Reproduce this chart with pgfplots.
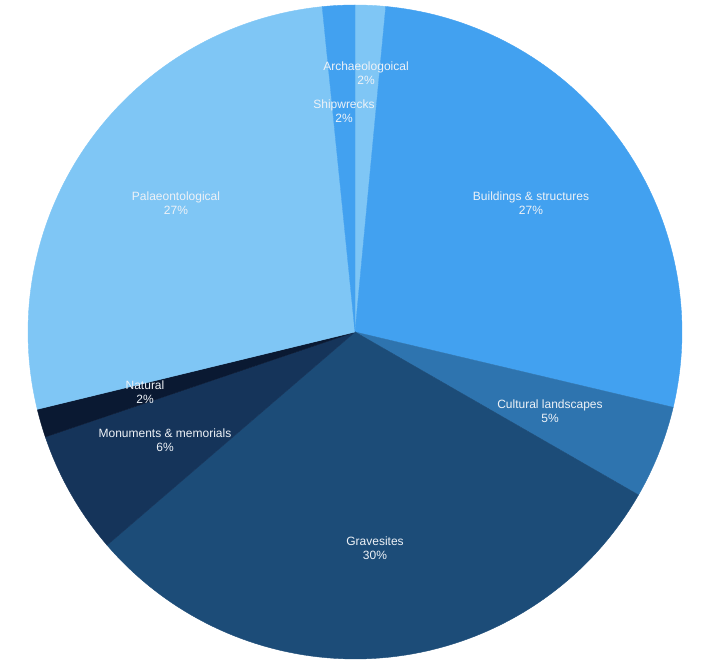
\documentclass[border=0pt]{standalone}
\usepackage{pgfplots}
\pgfplotsset{compat=1.18}
\usepackage{fontspec}
\setmainfont{Liberation Sans}

\definecolor{lightblue}{RGB}{127,198,245}
\definecolor{midblue}{RGB}{66,161,240}
\definecolor{cultblue}{RGB}{46,116,175}
\definecolor{gravblue}{RGB}{28,76,120}
\definecolor{monublue}{RGB}{21,52,90}
\definecolor{natblue}{RGB}{10,25,50}
\definecolor{labeltxt}{RGB}{238,242,247}

\tikzset{lbl/.style={text=labeltxt, align=center,
    font=\fontsize{12}{14}\selectfont, inner sep=0pt}}

% pie centre and radius, in pixels of the 712x669 canvas
\def\cx{355}
\def\cy{337}
\def\rr{327}

% #1 = share already used (%), #2 = share of this slice (%), #3 = colour
\newcommand\pieslice[3]{%
  \pgfmathsetmacro\aend{90-3.6*(#1)}%
  \pgfmathsetmacro\astart{90-3.6*(#1+#2)}%
  \addplot[fill=#3, draw=#3, line width=0.4pt, domain=\astart:\aend,
    samples=80, variable=\t]
    ({\cx+\rr*cos(\t)},{\cy+\rr*sin(\t)}) -- (axis cs:\cx,\cy) -- cycle;
}

\begin{document}
\begin{tikzpicture}
\begin{axis}[
  scale only axis, width=712pt, height=669pt,
  xmin=0, xmax=712, ymin=0, ymax=669,
  hide axis, clip=false,
]
\path (rel axis cs:0,0) rectangle (rel axis cs:1,1);
% shares in per cent, clockwise from 12 o'clock
\pieslice{0}{1.5}{lightblue}     % Archaeological
\pieslice{1.5}{27.2}{midblue}    % Buildings & structures
\pieslice{28.7}{4.6}{cultblue}   % Cultural landscapes
\pieslice{33.3}{30.4}{gravblue}  % Gravesites
\pieslice{63.7}{6.1}{monublue}   % Monuments & memorials
\pieslice{69.8}{1.4}{natblue}    % Natural
\pieslice{71.2}{27.2}{lightblue} % Palaeontological
\pieslice{98.4}{1.6}{midblue}    % Shipwrecks

\node[lbl] at (axis cs:366,596) {Archaeologoical\\2\%};
\node[lbl] at (axis cs:344,557.5) {Shipwrecks\\2\%};
\node[lbl] at (axis cs:531,466) {Buildings \& structures\\27\%};
\node[lbl] at (axis cs:550,258) {Cultural landscapes\\5\%};
\node[lbl] at (axis cs:375,121) {Gravesites\\30\%};
\node[lbl] at (axis cs:165,229) {Monuments \& memorials\\6\%};
\node[lbl] at (axis cs:145,277) {Natural\\2\%};
\node[lbl] at (axis cs:176,466) {Palaeontological\\27\%};
\end{axis}
\end{tikzpicture}
\end{document}
